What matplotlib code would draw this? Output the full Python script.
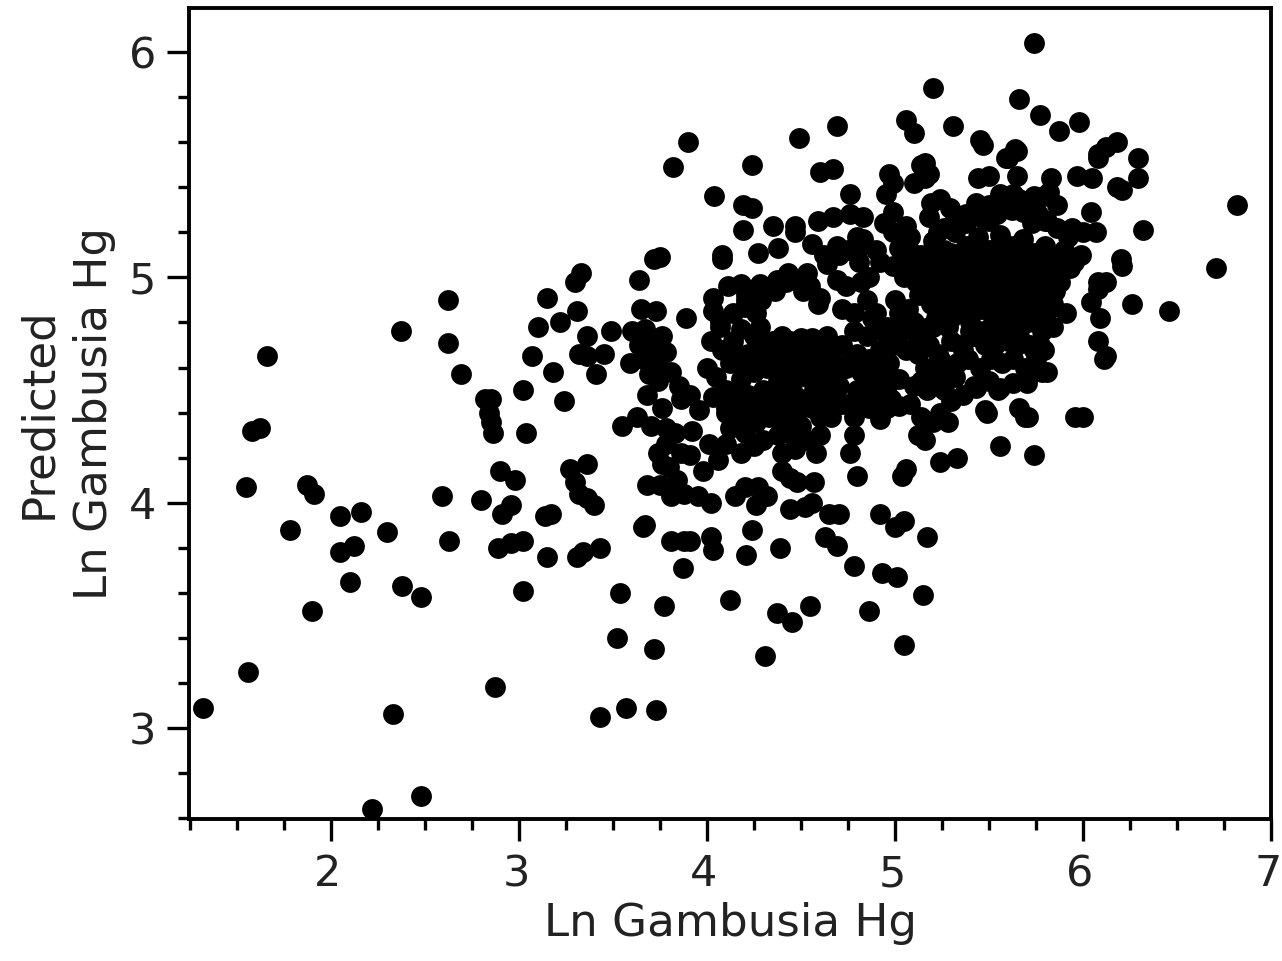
import matplotlib
matplotlib.use('Agg')
import matplotlib.pyplot as plt
from matplotlib.ticker import MultipleLocator
from matplotlib.transforms import ScaledTranslation

plt.rcParams['font.family'] = ['DejaVu Sans']

# values, region by region
left_x = [1.32, 1.56, 1.66, 1.62, 1.58, 1.55, 1.78, 1.87, 1.91, 1.90,
          2.05, 2.16, 2.05, 2.12, 2.10, 2.30, 2.38, 2.48, 2.33, 2.22,
          2.48, 2.37, 2.62, 2.62, 2.69, 2.59, 2.63, 2.87]
left_y = [3.09, 3.25, 4.65, 4.33, 4.32, 4.07, 3.88, 4.08, 4.04, 3.52,
          3.94, 3.96, 3.78, 3.81, 3.65, 3.87, 3.63, 3.58, 3.06, 2.64,
          2.70, 4.76, 4.90, 4.71, 4.57, 4.03, 3.83, 3.18]

midleft_x = [2.82, 2.85, 2.84, 2.85, 2.86, 2.90, 2.98, 2.80, 2.96, 2.91,
             2.89, 2.96, 3.02, 3.02, 3.02, 3.04, 3.07, 3.10, 3.15, 3.18,
             3.22, 3.24, 3.31, 3.30, 3.33, 3.36, 3.32, 3.36, 3.45, 3.41,
             3.49, 3.14, 3.17, 3.15, 3.31, 3.34, 3.43, 3.27, 3.36, 3.30,
             3.32, 3.36, 3.40, 3.54, 3.52, 3.43, 3.57, 3.73, 3.72, 3.77,
             4.12, 3.66, 3.67, 3.55]
midleft_y = [4.46, 4.46, 4.40, 4.36, 4.31, 4.14, 4.10, 4.01, 3.99, 3.95,
             3.80, 3.82, 3.83, 3.61, 4.50, 4.31, 4.65, 4.78, 4.91, 4.58,
             4.80, 4.45, 4.85, 4.98, 5.02, 4.74, 4.66, 4.65, 4.66, 4.57,
             4.76, 3.94, 3.95, 3.76, 3.76, 3.78, 3.80, 4.15, 4.17, 4.09,
             4.04, 4.02, 3.99, 3.60, 3.40, 3.05, 3.09, 3.08, 3.35, 3.54,
             3.57, 3.89, 3.90, 4.34]

mid_x = [3.82, 3.90, 4.04, 3.72, 3.75, 3.64, 3.65, 3.73, 3.89, 3.60,
         3.67, 3.70, 3.76, 3.59, 3.64, 3.71, 3.78, 3.75, 3.69, 3.74,
         3.81, 3.85, 3.91, 3.96, 3.86, 3.63, 3.70, 3.78, 3.83, 3.78,
         3.74, 3.76, 3.86, 3.91, 3.92, 4.01, 4.06, 3.98, 3.75, 3.81,
         3.88, 3.95, 4.02, 4.15, 4.20, 4.27, 4.26, 4.32, 3.81, 3.88,
         3.91, 3.87, 4.02, 4.03, 4.21, 4.24, 4.39, 4.37, 4.45, 4.55,
         4.31, 4.86, 4.78, 4.92, 4.93, 5.01, 5.05, 5.15, 5.17, 5.00,
         5.05, 4.63, 4.69, 4.65, 4.70, 4.44, 4.52, 4.57, 4.56, 4.40,
         4.44, 4.48]
mid_y = [5.49, 5.60, 5.36, 5.08, 5.09, 4.99, 4.86, 4.85, 4.82, 4.76,
         4.77, 4.72, 4.74, 4.62, 4.70, 4.67, 4.67, 4.60, 4.57, 4.54,
         4.58, 4.52, 4.48, 4.41, 4.46, 4.38, 4.34, 4.33, 4.31, 4.26,
         4.22, 4.17, 4.22, 4.21, 4.32, 4.26, 4.19, 4.14, 4.08, 4.03,
         4.04, 4.03, 4.00, 4.03, 4.07, 4.07, 3.99, 4.03, 3.83, 3.83,
         3.83, 3.71, 3.85, 3.79, 3.77, 3.88, 3.80, 3.51, 3.47, 3.54,
         3.32, 3.52, 3.72, 3.95, 3.69, 3.67, 3.37, 3.59, 3.85, 3.89,
         3.92, 3.85, 3.81, 3.95, 3.95, 3.97, 3.98, 4.09, 4.00, 4.14,
         4.11, 4.09]

upper_x = [4.24, 4.60, 4.67, 4.19, 4.24, 4.76, 4.97, 4.99, 4.95, 5.16,
           5.16, 5.19, 4.19, 4.35, 4.47, 4.47, 4.59, 4.67, 4.76, 4.83,
           4.94, 5.06, 4.99, 4.99, 4.08, 4.08, 4.27, 4.38, 4.56, 4.80,
           4.83, 5.09, 4.81, 4.92, 4.99, 4.43, 4.53, 4.64, 4.69, 4.74,
           4.60, 4.59, 4.51, 4.11, 4.18, 4.28, 4.37, 4.03, 4.03, 4.21,
           4.20, 4.07, 4.26, 4.49, 4.69]
upper_y = [5.50, 5.47, 5.48, 5.32, 5.31, 5.37, 5.46, 5.42, 5.37, 5.51,
           5.44, 5.33, 5.21, 5.23, 5.23, 5.20, 5.25, 5.27, 5.28, 5.27,
           5.24, 5.23, 5.29, 5.20, 5.10, 5.08, 5.11, 5.13, 5.15, 5.18,
           5.17, 5.11, 5.07, 5.07, 5.05, 5.02, 5.02, 5.06, 4.99, 4.96,
           4.91, 4.88, 4.94, 4.96, 4.97, 4.97, 4.99, 4.91, 4.85, 4.90,
           4.87, 4.80, 4.84, 5.62, 5.67]

center_x = [4.02, 4.08, 4.00, 4.05, 4.12, 4.14, 4.18, 4.25, 4.22, 4.30,
            4.36, 4.40, 4.44, 4.50, 4.56, 4.64, 4.60, 4.52, 4.46, 4.38,
            4.32, 4.25, 4.18, 4.10, 4.03, 4.15, 4.22, 4.30, 4.38, 4.45,
            4.53, 4.60, 4.68, 4.72, 4.78, 4.70, 4.64, 4.56, 4.48, 4.40,
            4.33, 4.26, 4.20, 4.12, 4.30, 4.38, 4.45, 4.52, 4.60, 4.58,
            4.47, 4.40, 4.25, 4.18, 4.60, 4.66, 4.75, 4.80, 4.78, 4.78,
            4.76, 4.80, 4.84, 4.90, 4.86, 4.80, 4.85, 4.92, 4.97, 5.02,
            4.96, 4.90, 4.85, 4.78, 4.72, 4.82, 4.28, 4.34, 4.42, 4.48,
            4.55, 4.64, 4.10, 4.16, 4.24, 4.33, 4.41, 4.50, 4.58, 4.66,
            4.74, 4.82, 4.88, 4.94, 4.10, 4.17, 4.27, 4.35, 4.43, 4.51]
center_y = [4.72, 4.68, 4.60, 4.56, 4.62, 4.72, 4.77, 4.74, 4.66, 4.70,
            4.72, 4.74, 4.72, 4.73, 4.73, 4.74, 4.68, 4.66, 4.62, 4.66,
            4.60, 4.58, 4.55, 4.50, 4.47, 4.44, 4.48, 4.50, 4.54, 4.50,
            4.56, 4.58, 4.62, 4.70, 4.76, 4.52, 4.46, 4.42, 4.40, 4.42,
            4.38, 4.36, 4.31, 4.33, 4.28, 4.30, 4.30, 4.28, 4.30, 4.22,
            4.24, 4.22, 4.25, 4.22, 4.38, 4.38, 4.44, 4.50, 4.38, 4.30,
            4.22, 4.12, 4.50, 4.56, 4.64, 4.66, 4.74, 4.68, 4.62, 4.70,
            4.78, 4.84, 4.90, 4.84, 4.86, 4.98, 4.78, 4.69, 4.62, 4.56,
            4.62, 4.54, 4.40, 4.50, 4.43, 4.46, 4.36, 4.34, 4.49, 4.70,
            4.60, 4.58, 4.45, 4.58, 4.26, 4.38, 4.64, 4.72, 4.58, 4.72]

lower_x = [4.92, 4.96, 5.02, 5.08, 5.14, 5.12, 5.16, 5.20, 5.24, 5.28,
           5.24, 5.33, 5.04, 5.06, 5.30, 5.26, 5.32, 5.36, 5.42, 5.50,
           5.55, 5.48, 5.56, 5.74, 5.66, 5.69, 5.63, 5.70, 5.74, 5.78,
           5.96, 6.00, 6.12, 6.08, 6.09, 6.08, 6.12]
lower_y = [4.37, 4.42, 4.43, 4.44, 4.38, 4.30, 4.28, 4.36, 4.40, 4.36,
           4.18, 4.20, 4.12, 4.15, 4.45, 4.50, 4.56, 4.48, 4.52, 4.54,
           4.50, 4.41, 4.25, 4.21, 4.42, 4.38, 4.53, 4.55, 4.68, 4.58,
           4.38, 4.38, 4.65, 4.72, 4.82, 4.95, 4.98]

right_x = [6.46, 6.32, 6.26, 6.21, 6.20, 6.04, 5.94, 6.00, 6.07, 5.95,
           5.99, 6.08, 6.04, 6.11, 5.91, 5.84, 5.79, 5.81, 5.70, 5.56,
           5.43, 5.49, 5.71, 5.60, 5.65, 6.08, 6.29, 6.29, 6.18, 6.21,
           5.97, 6.05, 5.83, 5.65, 5.50, 5.44, 5.79, 5.86, 5.63, 5.56,
           5.24, 5.29, 5.43, 5.23, 5.81, 5.73, 5.38, 5.50, 5.74, 5.20,
           5.66, 5.77, 5.87, 5.98, 5.06, 5.10, 5.31, 5.45, 5.47, 5.64,
           5.59, 6.18, 6.12, 6.08, 6.82, 6.71, 5.14, 5.18]
right_y = [4.85, 5.21, 4.88, 5.05, 5.08, 5.29, 5.22, 5.20, 5.20, 5.07,
           5.10, 4.98, 4.89, 4.64, 4.84, 4.78, 4.68, 4.58, 4.53, 4.51,
           4.51, 4.40, 4.38, 5.53, 5.56, 5.53, 5.53, 5.44, 5.40, 5.39,
           5.45, 5.44, 5.44, 5.45, 5.45, 5.44, 5.36, 5.32, 5.37, 5.37,
           5.35, 5.31, 5.33, 5.20, 5.25, 5.24, 5.24, 5.25, 6.04, 5.84,
           5.79, 5.72, 5.65, 5.69, 5.70, 5.64, 5.67, 5.61, 5.59, 5.57,
           5.53, 5.60, 5.58, 5.55, 5.32, 5.04, 5.50, 5.46]

dense_x = [5.02, 5.08, 5.14, 5.20, 5.26, 5.32, 5.38, 5.44, 5.50, 5.56,
           5.62, 5.68, 5.74, 5.80, 5.05, 5.11, 5.17, 5.23, 5.29, 5.35,
           5.41, 5.47, 5.53, 5.59, 5.65, 5.71, 5.77, 5.83, 5.00, 5.07,
           5.13, 5.19, 5.25, 5.31, 5.37, 5.43, 5.49, 5.55, 5.61, 5.67,
           5.73, 5.79, 5.85, 5.04, 5.10, 5.16, 5.22, 5.28, 5.34, 5.40,
           5.46, 5.52, 5.58, 5.64, 5.70, 5.76, 5.82, 5.12, 5.18, 5.24,
           5.30, 5.36, 5.42, 5.48, 5.54, 5.60, 5.66, 5.72, 5.78, 5.14,
           5.21, 5.27, 5.33, 5.39, 5.45, 5.51, 5.57, 5.63, 5.69, 5.75,
           5.20, 5.30, 5.40, 5.50, 5.60, 5.70, 5.84, 5.90, 5.93, 5.88,
           5.92, 5.86, 5.80, 5.76, 5.68, 5.62, 5.54, 5.46, 5.38, 5.32,
           5.10, 5.18, 5.26, 5.34, 5.42, 5.50, 5.58, 5.66, 5.74, 5.82]
dense_y = [5.13, 5.18, 5.10, 5.16, 5.12, 5.20, 5.14, 5.18, 5.12, 5.19,
           5.14, 5.17, 5.11, 5.14, 5.00, 4.98, 5.04, 5.00, 5.06, 5.02,
           5.07, 5.03, 5.08, 5.04, 5.09, 5.02, 5.06, 5.02, 4.90, 4.86,
           4.92, 4.88, 4.94, 4.90, 4.96, 4.92, 4.98, 4.94, 4.97, 4.93,
           4.96, 4.92, 4.94, 4.76, 4.80, 4.74, 4.82, 4.78, 4.84, 4.80,
           4.86, 4.82, 4.87, 4.83, 4.85, 4.81, 4.86, 4.66, 4.70, 4.64,
           4.72, 4.68, 4.74, 4.70, 4.76, 4.72, 4.74, 4.70, 4.76, 4.54,
           4.60, 4.55, 4.62, 4.64, 4.60, 4.64, 4.62, 4.64, 4.60, 4.64,
           4.78, 4.84, 4.76, 4.90, 4.78, 4.88, 5.04, 5.12, 5.04, 4.98,
           5.18, 5.22, 5.25, 5.28, 5.29, 5.30, 5.28, 5.27, 5.28, 5.26,
           5.42, 5.27, 5.22, 5.26, 5.28, 5.32, 5.36, 5.35, 5.36, 5.38]

# second pass over the black blobs, where single dots can no longer be told apart
fill_x = [5.04, 5.11, 5.17, 5.24, 5.30, 5.36, 5.42, 5.48, 5.54, 5.60,
          5.66, 5.72, 5.78, 5.84, 5.02, 5.08, 5.15, 5.21, 5.27, 5.33,
          5.39, 5.45, 5.51, 5.57, 5.63, 5.69, 5.75, 5.81, 5.87, 5.06,
          5.12, 5.18, 5.24, 5.30, 5.36, 5.42, 5.48, 5.54, 5.60, 5.66,
          5.72, 5.78, 5.84, 5.16, 5.23, 5.29, 5.35, 5.41, 5.47, 5.53,
          5.59, 5.65, 5.71, 5.77, 5.10, 5.17, 5.24, 5.30, 4.88, 4.93,
          4.98, 4.90, 4.96, 5.02, 4.86, 4.92, 4.98, 4.14, 4.21, 4.28,
          4.35, 4.43, 4.49, 4.56, 4.63, 4.70, 4.77, 4.10, 4.17, 4.24,
          4.31, 4.37, 4.44, 4.50, 4.57, 4.64, 4.72, 4.80, 4.07, 4.14,
          4.21, 4.29, 4.36, 4.42, 4.49, 4.55, 4.62, 4.69, 3.66, 3.72,
          3.68, 3.76, 3.68, 3.84, 3.80, 4.86, 4.90, 4.82, 4.75, 4.70]
fill_y = [5.06, 5.03, 5.09, 5.06, 5.11, 5.07, 5.11, 5.08, 5.13, 5.09,
          5.12, 5.08, 5.03, 5.08, 4.84, 4.80, 4.96, 4.94, 4.99, 4.95,
          5.00, 4.98, 5.02, 4.99, 5.02, 4.98, 5.00, 4.97, 5.00, 4.68,
          4.74, 4.78, 4.86, 4.82, 4.88, 4.86, 4.90, 4.87, 4.91, 4.88,
          4.91, 4.86, 4.88, 4.60, 4.66, 4.60, 4.70, 4.74, 4.76, 4.70,
          4.78, 4.70, 4.80, 4.70, 4.52, 4.50, 4.55, 4.60, 4.82, 4.76,
          4.70, 4.62, 4.52, 4.55, 4.42, 4.50, 4.46, 4.66, 4.60, 4.64,
          4.62, 4.66, 4.68, 4.62, 4.66, 4.58, 4.64, 4.42, 4.36, 4.40,
          4.44, 4.48, 4.44, 4.46, 4.50, 4.42, 4.44, 4.44, 4.78, 4.84,
          4.92, 4.90, 4.94, 4.98, 4.98, 4.96, 5.10, 5.14, 4.64, 4.64,
          4.48, 4.42, 4.08, 4.10, 4.16, 5.00, 5.12, 5.14, 5.12, 5.10]

xTicks = [2, 3, 4, 5, 6, 7]
yTicks = [3, 4, 5, 6]

xValues = left_x + midleft_x + mid_x + upper_x + center_x + lower_x + right_x + dense_x + fill_x
yValues = left_y + midleft_y + mid_y + upper_y + center_y + lower_y + right_y + dense_y + fill_y

fig = plt.figure(figsize=(12.82, 9.61), dpi=100)
ax = fig.add_axes([189 / 1282, 1 - 819 / 961, (1271 - 189) / 1282, (819 - 8) / 961])
ax.scatter(xValues, yValues, s=225, c='black', linewidths=0, clip_on=True)

ax.set_xlim(1.245, 7)
ax.set_ylim(2.596, 6.196)
ax.set_xticks(xTicks)
ax.set_yticks(yTicks)
ax.xaxis.set_minor_locator(MultipleLocator(0.25))
ax.yaxis.set_minor_locator(MultipleLocator(0.2))
ax.tick_params(which='major', length=15.5, width=2.4, labelsize=31, labelcolor='#222222')
ax.tick_params(which='minor', length=8, width=2.4)
ax.tick_params(axis='x', which='major', pad=9)
ax.tick_params(axis='y', which='major', pad=8)
for spine in ax.spines.values():
    spine.set_linewidth(2.8)

# tick numbers sit a little left of their ticks, and the 7 has to stay on the page
shift = ScaledTranslation(-3 / 100, 0, fig.dpi_scale_trans)
for label in ax.get_xticklabels():
    label.set_transform(label.get_transform() + shift)

ax.set_xlabel('Ln Gambusia Hg', fontsize=32.5, color='#222222', labelpad=5)
ax.set_ylabel('Predicted\nLn Gambusia Hg', fontsize=32.5, color='#222222', labelpad=9, linespacing=1.4)

fig.savefig('out.png', dpi=100)
